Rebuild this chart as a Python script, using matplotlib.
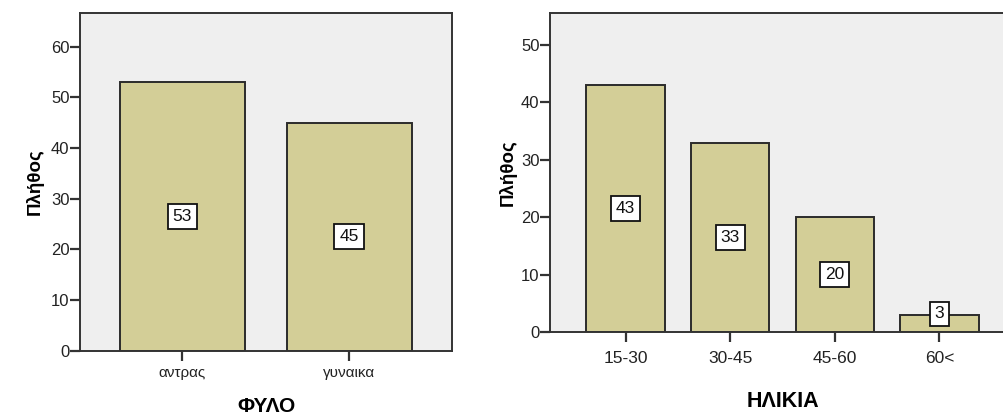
import matplotlib
matplotlib.use("Agg")
import matplotlib.pyplot as plt

plt.rcParams['font.family'] = ['Liberation Sans', 'DejaVu Sans']

# Data
sex_categories = ["αντρας", "γυναικα"]
sex_counts = [53, 45]
age_categories = ["15-30", "30-45", "45-60", "60<"]
age_counts = [43, 33, 20, 3]

BG = "#EFEFEF"
BAR = "#D3CE97"
EDGE = "#2B2B2B"
SPINE = "#333333"

fig = plt.figure(figsize=(10.04, 4.17), dpi=100)
fig.patch.set_facecolor("white")

ax1 = fig.add_axes([0.0797, 0.159, 0.3705, 0.8106])
ax2 = fig.add_axes([0.5478, 0.2031, 0.4632, 0.765])


def style(ax, tick_fs, xtick_fs, xpad):
    ax.set_facecolor(BG)
    for s in ax.spines.values():
        s.set_color(SPINE)
        s.set_linewidth(1.4)
    ax.tick_params(axis="both", direction="out", length=7.5, width=1.6,
                   color=SPINE, labelcolor="#222222")
    ax.tick_params(axis="y", labelsize=tick_fs, pad=0)
    ax.tick_params(axis="x", labelsize=xtick_fs, pad=xpad)


def bars(ax, cats, vals, min_label):
    x = range(len(cats))
    ax.bar(x, vals, width=0.75, color=BAR, edgecolor=EDGE, linewidth=1.4,
           zorder=2)
    ax.set_xticks(list(x))
    ax.set_xticklabels(cats)
    for xi, v in zip(x, vals):
        ax.text(xi, max(v / 2, min_label), str(v), ha="center", va="center",
                fontsize=12.5, color="#111111", zorder=3,
                bbox=dict(boxstyle="square,pad=0.28", facecolor="white",
                          edgecolor="#111111", linewidth=1.3))


# Left chart: counts by sex
bars(ax1, sex_categories, sex_counts, 0)
ax1.set_xlim(-0.614, 1.618)
ax1.set_ylim(0, 66.7)
ax1.set_yticks([0, 10, 20, 30, 40, 50, 60])
style(ax1, 12, 11, 3.5)
ax1.set_ylabel("Πλήθος", fontsize=13.5, fontweight="bold")
ax1.set_xlabel("ΦΥΛΟ", fontsize=15, fontweight="bold")
ax1.yaxis.set_label_coords(-0.097, 0.5)
ax1.xaxis.set_label_coords(0.5, -0.138)

# Right chart: counts by age group
bars(ax2, age_categories, age_counts, 3.2)
ax2.set_xlim(-0.724, 3.724)
ax2.set_ylim(0, 55.5)
ax2.set_yticks([0, 10, 20, 30, 40, 50])
style(ax2, 12, 12.5, 6)
ax2.set_ylabel("Πλήθος", fontsize=13.5, fontweight="bold")
ax2.set_xlabel("ΗΛΙΚΙΑ", fontsize=15.5, fontweight="bold")
ax2.yaxis.set_label_coords(-0.071, 0.5)
ax2.xaxis.set_label_coords(0.5, -0.183)

fig.savefig("out.png", dpi=100)
